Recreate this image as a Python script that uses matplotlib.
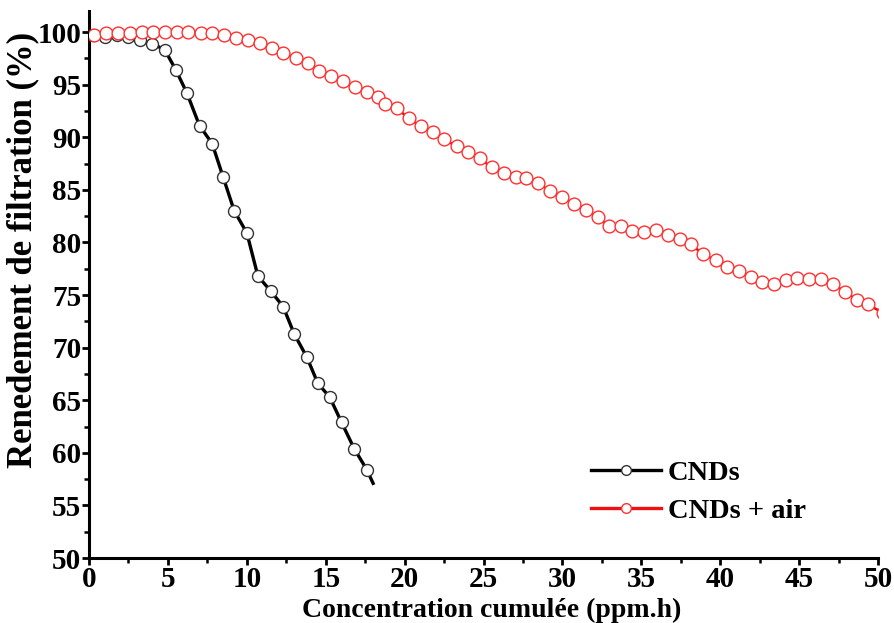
import matplotlib
matplotlib.use("Agg")
import matplotlib.pyplot as plt
from matplotlib.lines import Line2D

plt.rcParams['font.family'] = ['Liberation Serif', 'DejaVu Serif']
plt.rcParams['font.weight'] = 'bold'

# CNDs series
cnd_x = [0.25, 1.0, 1.77, 2.47, 3.2, 4.0, 4.8, 5.5, 6.2, 7.0, 7.8, 8.5, 9.2, 10.0,
         10.7, 11.5, 12.3, 13.0, 13.8, 14.5, 15.25, 16.0, 16.8, 17.6, 18.0]
cnd_y = [99.7, 99.5, 99.7, 99.5, 99.2, 98.9, 98.3, 96.4, 94.2, 91.1, 89.4, 86.2, 83.0, 80.9,
         76.8, 75.4, 73.9, 71.3, 69.1, 66.6, 65.3, 62.9, 60.4, 58.4, 57.1]

# CNDs + air series
air_x = [0.32, 1.08, 1.84, 2.59, 3.35, 4.05, 4.81, 5.57, 6.27, 7.09, 7.78, 8.54, 9.30, 10.06,
         10.82, 11.58, 12.28, 13.10, 13.86, 14.56, 15.32, 16.08, 16.84, 17.59, 18.29, 18.73,
         19.49, 20.25, 21.01, 21.77, 22.47, 23.29, 23.99, 24.75, 25.51, 26.27, 27.03, 27.72,
         28.48, 29.24, 30.0, 30.76, 31.52, 32.22, 32.97, 33.73, 34.43, 35.19, 35.95, 36.71,
         37.47, 38.16, 38.92, 39.75, 40.44, 41.20, 41.96, 42.66, 43.42, 44.18, 44.87, 45.63,
         46.39, 47.15, 47.91, 48.67, 49.37, 50.3]
air_y = [99.71, 99.90, 99.90, 99.90, 100.0, 100.0, 100.0, 100.0, 100.0, 99.90, 99.90, 99.71,
         99.43, 99.24, 98.95, 98.48, 98.0, 97.52, 97.05, 96.29, 95.81, 95.33, 94.76, 94.29,
         93.81, 93.14, 92.76, 91.81, 91.05, 90.48, 89.81, 89.14, 88.57, 88.0, 87.14, 86.57,
         86.19, 86.10, 85.62, 84.86, 84.29, 83.62, 83.05, 82.38, 81.52, 81.52, 81.05, 80.95,
         81.14, 80.67, 80.29, 79.81, 78.86, 78.29, 77.71, 77.24, 76.67, 76.19, 76.0, 76.38,
         76.57, 76.48, 76.48, 76.0, 75.33, 74.48, 74.10, 73.3]

x_ticks = [0, 5, 10, 15, 20, 25, 30, 35, 40, 45, 50]
y_ticks = [50, 55, 60, 65, 70, 75, 80, 85, 90, 95, 100]

fig = plt.figure(figsize=(8.94, 6.23), dpi=100)
ax = fig.add_axes([0.0996, 0.1043, 0.8826, 0.8781])

ax.plot(air_x, air_y, color='#ff0000', lw=1.8, zorder=2)
ax.plot(cnd_x, cnd_y, color='black', lw=2.4, zorder=3)
ax.plot(cnd_x[:-1], cnd_y[:-1], ls='none', marker='o', ms=8.6, mfc='white', mec='#333333', mew=1.0, zorder=4)
ax.plot(air_x, air_y, ls='none', marker='o', ms=9.2, mfc='white', mec='#ff3030', mew=1.0, zorder=5)

ax.set_xlim(0, 50)
ax.set_ylim(50, 102)
ax.set_xticks(x_ticks)
ax.set_yticks(y_ticks)
ax.set_xticks([2.5 + 5 * i for i in range(10)], minor=True)
ax.set_yticks([52.5 + 5 * i for i in range(10)], minor=True)

for s in ['top', 'right']:
    ax.spines[s].set_visible(False)
for s in ['left', 'bottom']:
    ax.spines[s].set_linewidth(2.2)

ax.tick_params(which='major', direction='out', length=5, width=2, labelsize=21, pad=0.5)
ax.tick_params(which='minor', direction='out', length=3.5, width=1.8)
for lab in ax.get_xticklabels() + ax.get_yticklabels():
    lab.set_fontweight('bold')

ax.set_xlabel('Concentration cumulée (ppm.h)', fontsize=20, fontweight='bold')
ax.set_ylabel('Renedement de filtration (%)', fontsize=25, fontweight='bold')
ax.xaxis.set_label_coords(0.51, -0.0731)
ax.yaxis.set_label_coords(-0.063, 0.563)

handles = [
    Line2D([], [], color='black', lw=2.4, marker='o', ms=7, mfc='white', mec='#333333', mew=1.0),
    Line2D([], [], color='#ee1111', lw=2.4, marker='o', ms=7, mfc='white', mec='#ff3030', mew=1.0),
]
ax.legend(handles, ['CNDs', 'CNDs + air'], loc='upper left', bbox_to_anchor=(0.622, 0.20),
          frameon=False, prop={'weight': 'bold', 'size': 20.5},
          handlelength=2.45, handletextpad=0.25, labelspacing=0.41, borderaxespad=0)

fig.savefig('out.png', dpi=100)
